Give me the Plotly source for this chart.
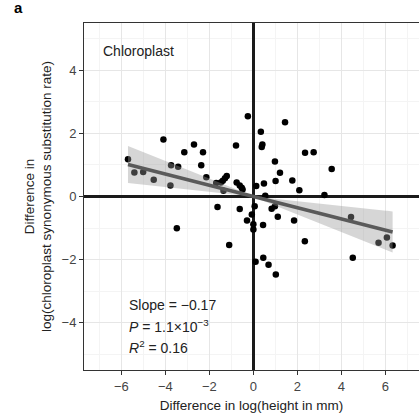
import numpy as np
import plotly.graph_objects as go

# Differences in log(height in mm)
height_diff = [
    -0.25, -4.09, -2.70, -0.79, -3.14, -2.29, -5.70, -2.37, -3.74, -3.42,
    -5.41, -5.01, -2.14, -4.53, -3.77, -1.21, -1.29, -1.39, -1.48, -0.76,
    -0.62, -0.53, -0.49, -1.69, -1.36,
    1.44, 0.34, 0.41, 0.38, 2.35, 2.74, 0.98, 1.21, 3.56, 1.01,
    1.77, 0.48, 0.13, 2.09, 3.23, 0.54,
    0.06, 0.83, 0.98, 1.11, 1.85, -0.29, -0.07, 0.00, 0.00, 0.44,
    2.34, 4.44, 5.69, 6.07, 6.33, 4.52, 0.10, 0.45, 0.69, 1.02,
    -1.63, -0.62, -3.48, -1.10,
]
# Differences in log(chloroplast synonymous substitution rate)
rate_diff = [
    2.54, 1.81, 1.65, 1.62, 1.40, 1.40, 1.18, 0.99, 0.99, 0.94,
    0.76, 0.78, 0.61, 0.53, 0.35, 0.65, 0.58, 0.50, 0.44, 0.44,
    0.35, 0.28, 0.22, 0.43, 0.18,
    2.35, 2.05, 1.65, 1.57, 1.39, 1.40, 1.11, 0.75, 0.87, 0.49,
    0.51, 0.41, 0.33, 0.20, 0.05, 0.02,
    -0.31, -0.39, -0.31, -0.64, -0.76, -0.76, -0.57, -0.88, -1.05, -0.90,
    -1.42, -0.65, -1.47, -1.30, -1.55, -1.94, -2.07, -1.94, -2.16, -2.47,
    -0.33, -0.40, -1.01, -1.54,
]
x_ticks = [-6, -4, -2, 0, 2, 4, 6]
y_ticks = [-4, -2, 0, 2, 4]
panel_label = "a"
panel_title = "Chloroplast"
stats_lines = ["Slope = \u22120.17", "<i>P</i> = 1.1\u00d710<sup>\u22123</sup>", "<i>R</i><sup>2</sup> = 0.16"]

# Regression through the origin (independent contrasts) with 95% CI
x = np.array(height_diff)
y = np.array(rate_diff)
n = len(x)
b = np.sum(x * y) / np.sum(x * x)
s2 = np.sum((y - b * x) ** 2) / (n - 1)
se = np.sqrt(s2 / np.sum(x * x))
t975 = 1.999
xs = np.linspace(x.min(), x.max(), 200)
fit = b * xs
hw = t975 * se * np.abs(xs)

font = "Liberation Sans, Arial, Helvetica, sans-serif"
fig = go.Figure()
fig.add_trace(go.Scatter(x=height_diff, y=rate_diff, mode="markers",
                         marker=dict(color="black", size=6.5, line=dict(width=0)),
                         hoverinfo="skip", showlegend=False))
fig.add_trace(go.Scatter(x=np.concatenate([xs, xs[::-1]]),
                         y=np.concatenate([fit + hw, (fit - hw)[::-1]]),
                         fill="toself", fillcolor="rgba(153,153,153,0.4)",
                         line=dict(width=0), mode="lines", hoverinfo="skip",
                         showlegend=False))
fig.add_trace(go.Scatter(x=xs, y=fit, mode="lines",
                         line=dict(color="#5a5a5a", width=3.5),
                         hoverinfo="skip", showlegend=False))

axis_common = dict(
    showgrid=True, gridcolor="#e6e6e6", gridwidth=1,
    zeroline=True, zerolinecolor="#1a1a1a", zerolinewidth=2.6,
    showline=True, linecolor="#333333", linewidth=1,
    ticks="outside", ticklen=4, tickcolor="#333333", tickwidth=1,
    tickfont=dict(family=font, size=13, color="#444444"),
    minor=dict(dtick=1, showgrid=True, gridcolor="#f4f4f4", gridwidth=1, ticks=""),
)
fig.update_xaxes(range=[-7.7, 7.53], tickvals=x_ticks, mirror=True,
                 title=dict(text="Difference in log(height in mm)",
                            font=dict(family=font, size=13.5, color="#222222"),
                            standoff=7),
                 **axis_common)
fig.update_yaxes(range=[-5.5, 5.5], tickvals=y_ticks, mirror=False,
                 title=dict(text="Difference in<br>log(chloroplast synonymous substitution rate)",
                            font=dict(family=font, size=13.5, color="#222222"),
                            standoff=6),
                 **axis_common)

fig.add_annotation(text=f"<b>{panel_label}</b>", xref="paper", yref="paper",
                   x=-0.215, y=1.045, xanchor="left", yanchor="middle",
                   showarrow=False, font=dict(family=font, size=15, color="black"))
fig.add_annotation(text=panel_title, x=-6.95, y=4.6, xanchor="left", yanchor="middle",
                   showarrow=False, font=dict(family=font, size=14, color="#222222"))
for i, line in enumerate(stats_lines):
    fig.add_annotation(text=line, x=-5.75, y=-3.45 - i * 0.66, xanchor="left",
                       yanchor="middle", showarrow=False,
                       font=dict(family=font, size=14, color="#222222"))

fig.update_layout(width=419, height=418,
                  margin=dict(l=84, r=0, t=23, b=48),
                  plot_bgcolor="white", paper_bgcolor="white")
fig.write_html("out.html")
